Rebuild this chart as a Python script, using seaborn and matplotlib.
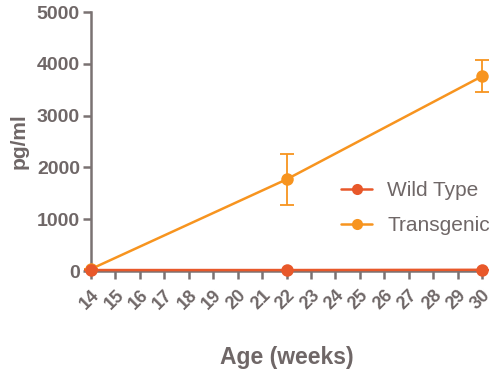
import numpy as np
import pandas as pd
import matplotlib
matplotlib.use("Agg")
import matplotlib.pyplot as plt
import seaborn as sns

# data
ages = [14, 22, 30]
wild_type = [20, 20, 25]
wild_type_err = [0, 0, 0]
transgenic = [40, 1770, 3760]
transgenic_err = [0, 490, 310]

TEXT = '#6f6767'
AXIS = '#7a7272'
C_WT = '#e8582a'
C_TG = '#f7941f'

sns.set_theme(style='white')
plt.rcParams['font.family'] = ['Liberation Sans', 'DejaVu Sans']

df = pd.DataFrame({
    'Age': ages * 2,
    'pg/ml': wild_type + transgenic,
    'Group': ['Wild Type'] * 3 + ['Transgenic'] * 3,
})

fig = plt.figure(figsize=(5, 3.76), dpi=100)
ax = fig.add_axes([0.182, 0.279, 0.782, 0.689])

# error bars first so they sit under the markers
ax.errorbar(ages, transgenic, yerr=transgenic_err, fmt='none', ecolor=C_TG,
            elinewidth=1.3, capsize=5, capthick=1.3, zorder=2)
ax.errorbar(ages, wild_type, yerr=wild_type_err, fmt='none', ecolor=C_WT,
            elinewidth=1.3, capsize=5, capthick=1.3, zorder=2)

sns.lineplot(data=df, x='Age', y='pg/ml', hue='Group',
             hue_order=['Transgenic', 'Wild Type'],
             palette={'Wild Type': C_WT, 'Transgenic': C_TG},
             marker='o', markersize=9, markeredgewidth=0, linewidth=1.8,
             ax=ax, legend=False, zorder=3)

for side in ['top', 'right']:
    ax.spines[side].set_visible(False)
for side in ['left', 'bottom']:
    ax.spines[side].set_color(AXIS)
    ax.spines[side].set_linewidth(1.8)

ax.set_xlim(14, 30)
ax.set_ylim(0, 5000)
ax.set_xticks(range(14, 31))
ax.set_yticks([0, 1000, 2000, 3000, 4000, 5000])
ax.set_xticklabels([str(a) for a in range(14, 31)], rotation=45, ha='right',
                   rotation_mode='anchor', fontsize=13, fontweight='bold', color=TEXT)
ax.set_yticklabels(['0', '1000', '2000', '3000', '4000', '5000'],
                   fontsize=14, fontweight='bold', color=TEXT)
ax.tick_params(axis='both', colors=AXIS, width=1.8, length=6, direction='out',
               bottom=True, left=True)
ax.tick_params(axis='x', pad=5, labelcolor=TEXT)
ax.tick_params(axis='y', pad=2, labelcolor=TEXT)
for c in ax.collections + ax.lines:
    c.set_clip_on(False)

ax.set_xlabel('Age (weeks)', fontsize=16.5, fontweight='bold', color=TEXT, labelpad=24)
ax.set_ylabel('pg/ml', fontsize=15, fontweight='bold', color=TEXT, labelpad=6)

# legend with line+marker handles
h_wt = plt.Line2D([], [], color=C_WT, marker='o', markersize=8, markeredgewidth=0, linewidth=1.8)
h_tg = plt.Line2D([], [], color=C_TG, marker='o', markersize=8, markeredgewidth=0, linewidth=1.8)
leg = ax.legend([h_wt, h_tg], ['Wild Type', 'Transgenic'], frameon=False,
                loc='center left', bbox_to_anchor=(0.64, 0.243), fontsize=15,
                borderaxespad=0, borderpad=0,
                handlelength=1.5, handletextpad=0.7, labelspacing=0.75)
for t in leg.get_texts():
    t.set_color(TEXT)

fig.savefig('out.png', dpi=100)
